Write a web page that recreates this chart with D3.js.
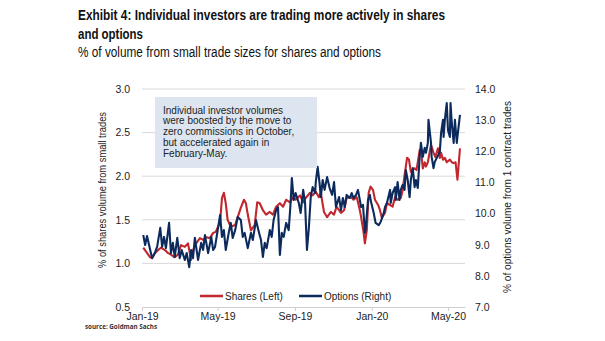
<!DOCTYPE html>
<html>
<head>
<meta charset="utf-8">
<script src="https://cdn.jsdelivr.net/npm/d3@7"></script>
<style>
body{margin:0;background:#fff;}
svg{display:block;font-family:"Liberation Sans",Arial,sans-serif;}
.narrow{font-family:"Liberation Sans Narrow","Arial Narrow","Liberation Sans",Arial,sans-serif;}
</style>
</head>
<body>
<div id="chart"></div>
<script>

// x axis ticks
var xTickDates = ["2019-01-01","2019-05-01","2019-09-01","2020-01-01","2020-05-01"];
var xTickLabels = ["Jan-19","May-19","Sep-19","Jan-20","May-20"];
var sharesTicks = [0.5,1.0,1.5,2.0,2.5,3.0];
var optionsTicks = [7,8,9,10,11,12,13,14];

// shares: days after 1 Jan 2019, % of volume from small trades
var sharesDay = [2,5,13,16,21,25,30,37,41,46,52,57,62,68,73,78,81,86,92,97,
  102,108,113,117,124,127,130,133,136,141,148,152,157,162,165,168,173,179,183,187,
  192,197,203,208,213,219,224,229,235,240,244,251,256,260,267,271,276,281,284,289,
  294,300,305,309,316,321,325,332,336,341,346,348,352,354,357,360,363,367,370,375,
  378,381,386,389,394,398,402,406,411,414,417,421,424,427,430,433,436,441,443,446,
  449,451,454,459,463,466,470,473,475,478,481,484,489,492,495,498,501,505];
var sharesPct = [1.18,1.15,1.07,1.06,1.12,1.15,1.18,1.15,1.12,1.10,
  1.07,1.10,1.21,1.19,1.23,1.04,1.15,1.23,1.29,1.27,
  1.30,1.29,1.35,1.36,1.47,1.75,1.81,1.69,1.50,1.42,
  1.44,1.53,1.64,1.73,1.69,1.56,1.38,1.44,1.70,1.69,
  1.61,1.56,1.59,1.56,1.65,1.69,1.65,1.73,1.70,1.76,
  1.73,1.78,1.70,1.75,1.81,1.78,1.82,1.76,1.81,1.59,
  1.53,1.59,1.56,1.65,1.58,1.61,1.75,1.76,1.73,1.76,
  1.61,1.53,1.35,1.23,1.38,1.81,1.88,1.84,1.73,1.67,
  1.61,1.52,1.58,1.69,1.67,1.65,1.76,1.73,1.75,1.84,
  2.01,2.21,2.19,2.05,2.07,2.09,2.07,2.30,2.30,2.09,
  2.16,2.11,2.16,2.36,2.27,2.22,2.32,2.21,2.27,2.19,
  2.21,2.16,2.19,2.16,2.15,2.16,1.96,2.32];

// options: days after 1 Jan 2019, % of volume from 1 contract trades
var optionsDay = [2,5,8,13,16,21,24,29,32,35,38,43,46,49,52,56,60,63,68,71,
  75,78,81,84,89,94,97,100,105,110,113,116,121,124,127,130,133,138,141,144,
  148,152,157,160,163,168,173,176,181,186,189,192,195,198,203,206,209,213,216,219,
  222,225,229,233,236,238,241,244,249,252,256,259,262,265,268,271,275,276,279,282,
  284,287,290,294,298,302,305,308,313,316,319,322,325,330,333,336,340,343,348,351,
  354,355,359,362,363,368,371,376,379,384,386,389,394,395,398,402,403,406,409,411,
  414,417,419,422,425,427,430,433,435,438,441,443,446,449,451,454,455,459,460,463,
  465,468,473,475,478,479,481,484,486,489,490,492,495,497,500,501,505];
var optionsPct = [9.31,8.99,9.28,8.83,8.57,8.77,8.93,9.54,8.93,9.25,
  8.89,9.70,8.73,9.06,8.61,9.22,8.57,8.83,8.51,8.73,
  8.28,8.83,8.57,9.22,8.51,9.06,8.83,9.31,8.73,9.25,
  8.83,8.93,9.57,9.95,9.25,9.47,8.83,9.41,9.70,9.22,
  9.47,9.89,9.79,9.25,9.38,8.89,9.38,9.15,9.79,9.38,
  9.15,8.61,9.06,8.89,9.47,9.25,9.79,10.11,10.21,8.67,
  9.38,9.25,9.70,9.47,10.34,11.14,10.44,10.66,10.34,10.02,
  10.76,10.34,8.83,9.54,10.53,10.85,10.66,11.01,11.50,10.98,
  10.53,11.08,10.76,11.17,10.82,10.60,11.01,10.21,10.53,10.11,
  10.50,10.21,10.60,10.50,10.66,10.50,10.60,10.76,10.21,10.28,
  9.38,9.47,10.44,10.60,10.44,10.02,9.70,9.63,9.73,10.02,
  10.21,10.34,10.76,10.34,10.66,10.85,10.44,11.01,10.44,10.76,
  10.92,10.76,11.40,11.08,10.53,11.08,11.46,10.85,11.08,10.82,
  11.82,12.27,11.82,12.11,11.95,12.27,13.01,12.27,11.82,11.46,
  11.66,11.78,11.98,12.59,13.01,12.46,13.01,13.55,12.68,12.46,
  13.55,12.91,12.27,13.01,12.27,12.46,13.17];

var noteLines = ["Individual investor volumes","were boosted by the move to",
  "zero commissions in October,","but accelerated again in","February-May."];

var red = "#c1272d", blue = "#0c2b5c";

function drawChart(){
	var width = 605, height = 341;
	var left = 142, right = 465, top = 89, bottom = 307;
	var svg = d3.select("#chart").append("svg").attr("width",width).attr("height",height);
	var parse = d3.timeParse("%Y-%m-%d");
	var base = new Date(2019,0,1);

	var x = d3.scaleTime().domain([base,new Date(2020,4,28)]).range([left,right]);
	var yL = d3.scaleLinear().domain([0.5,3]).range([bottom,top]);
	var yR = d3.scaleLinear().domain([7,14]).range([bottom,top]);

	// titles
	svg.append("text").attr("class","narrow").attr("x",78).attr("y",20)
		.style("font-size","15.5px").style("font-weight","bold").attr("fill","#111")
		.attr("textLength",367).attr("lengthAdjust","spacingAndGlyphs")
		.text("Exhibit 4: Individual investors are trading more actively in shares");
	svg.append("text").attr("class","narrow").attr("x",78).attr("y",38.5)
		.style("font-size","15.5px").style("font-weight","bold").attr("fill","#111")
		.attr("textLength",65).attr("lengthAdjust","spacingAndGlyphs")
		.text("and options");
	svg.append("text").attr("class","narrow").attr("x",78).attr("y",57)
		.style("font-size","14px").attr("fill","#111")
		.attr("textLength",303).attr("lengthAdjust","spacingAndGlyphs")
		.text("% of volume from small trade sizes for shares and options");

	// gridlines
	svg.append("g").selectAll("line").data(sharesTicks.slice(1)).enter().append("line")
		.attr("x1",left).attr("x2",right)
		.attr("y1",function(d){return yL(d);}).attr("y2",function(d){return yL(d);})
		.attr("stroke","#d9d9d9").attr("stroke-width",1);

	// axes
	var xAxis = svg.append("g").attr("transform","translate(0,"+bottom+")")
		.call(d3.axisBottom(x).tickValues(xTickDates.map(parse))
			.tickFormat(function(d,i){return xTickLabels[i];})
			.tickSize(4).tickSizeOuter(0).tickPadding(2));
	xAxis.select(".domain").attr("stroke","#d0d0d0");
	xAxis.selectAll(".tick line").attr("stroke","#d0d0d0");
	xAxis.selectAll("text").style("font-size","10.5px").attr("fill","#222").style("font-family","Liberation Sans, Arial, sans-serif");

	var lAxis = svg.append("g").attr("transform","translate("+left+",0)")
		.call(d3.axisLeft(yL).tickValues(sharesTicks).tickFormat(d3.format(".1f")).tickSize(0).tickPadding(12));
	lAxis.select(".domain").remove();
	lAxis.selectAll("text").style("font-size","10.5px").attr("fill","#222").style("font-family","Liberation Sans, Arial, sans-serif");

	var rAxis = svg.append("g").attr("transform","translate("+right+",0)")
		.call(d3.axisRight(yR).tickValues(optionsTicks).tickFormat(d3.format(".1f")).tickSize(0).tickPadding(10));
	rAxis.select(".domain").remove();
	rAxis.selectAll("text").style("font-size","10.5px").attr("fill","#222").style("font-family","Liberation Sans, Arial, sans-serif");

	// axis titles
	svg.append("text").attr("transform","translate(106,190) rotate(-90)")
		.attr("text-anchor","middle").style("font-size","11px").attr("fill","#222")
		.attr("textLength",156).attr("lengthAdjust","spacingAndGlyphs")
		.text("% of shares volume from small trades");
	svg.append("text").attr("transform","translate(511,197) rotate(-90)")
		.attr("text-anchor","middle").style("font-size","11px").attr("fill","#222")
		.attr("textLength",192).attr("lengthAdjust","spacingAndGlyphs")
		.text("% of options volume from 1 contract trades");

	// series
	var shares = sharesDay.map(function(d,i){return {date:d3.timeDay.offset(base,d), v:sharesPct[i]};});
	var options = optionsDay.map(function(d,i){return {date:d3.timeDay.offset(base,d), v:optionsPct[i]};});

	var lineL = d3.line().x(function(d){return x(d.date);}).y(function(d){return yL(d.v);});
	var lineR = d3.line().x(function(d){return x(d.date);}).y(function(d){return yR(d.v);});

	svg.append("path").datum(shares).attr("d",lineL)
		.attr("fill","none").attr("stroke",red).attr("stroke-width",2.1).attr("stroke-linejoin","round");
	svg.append("path").datum(options).attr("d",lineR)
		.attr("fill","none").attr("stroke",blue).attr("stroke-width",2.1).attr("stroke-linejoin","round");

	// note box
	svg.append("rect").attr("x",155).attr("y",97).attr("width",162).attr("height",71)
		.attr("fill","#dde6f0");
	svg.append("g").selectAll("text").data(noteLines).enter().append("text")
		.attr("x",163).attr("y",function(d,i){return 113.5+i*10.8;})
		.style("font-size","10px").attr("fill","#222")
		.text(function(d){return d;});

	// legend
	var legend = [{label:"Shares (Left)",color:red,x:200},{label:"Options (Right)",color:blue,x:299}];
	var lg = svg.append("g").selectAll("g").data(legend).enter().append("g")
		.attr("transform",function(d){return "translate("+d.x+",296)";});
	lg.append("line").attr("x1",0).attr("x2",23).attr("stroke",function(d){return d.color;}).attr("stroke-width",2.5);
	lg.append("text").attr("x",25).attr("y",3.5).style("font-size","10px").attr("fill","#222")
		.text(function(d){return d.label;});

	// source
	svg.append("text").attr("x",85).attr("y",329).style("font-size","7.5px").style("font-weight","bold")
		.style("font-family","Open Sans, sans-serif").attr("fill","#333")
		.attr("textLength",72).attr("lengthAdjust","spacingAndGlyphs")
		.text("source: Goldman Sachs");
}

drawChart();
</script>
</body>
</html>
